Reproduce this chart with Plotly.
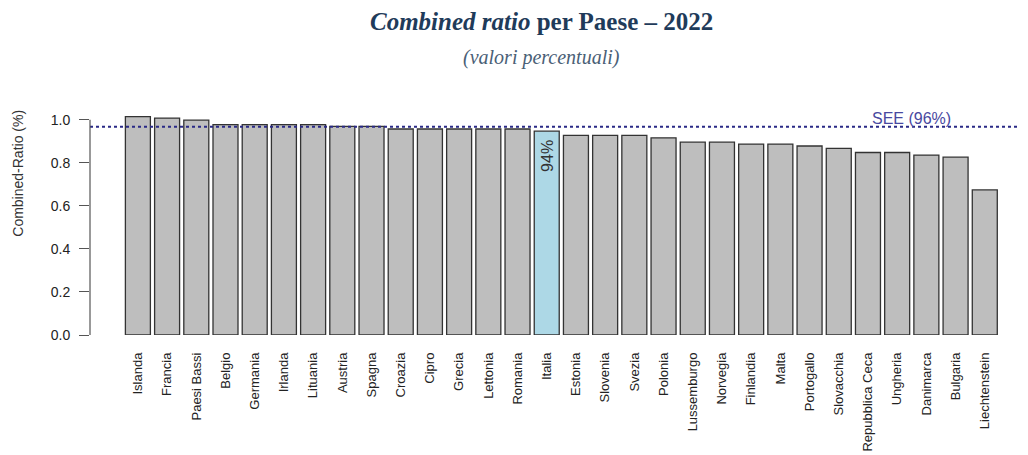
import plotly.graph_objects as go

# dati (combined ratio 2022)
paesi = ["Islanda", "Francia", "Paesi Bassi", "Belgio", "Germania", "Irlanda", "Lituania",
         "Austria", "Spagna", "Croazia", "Cipro", "Grecia", "Lettonia", "Romania", "Italia",
         "Estonia", "Slovenia", "Svezia", "Polonia", "Lussemburgo", "Norvegia", "Finlandia",
         "Malta", "Portogallo", "Slovacchia", "Repubblica Ceca", "Ungheria", "Danimarca",
         "Bulgaria", "Liechtenstein"]
ratio = [1.015, 1.008, 0.998, 0.977, 0.977, 0.977, 0.977,
         0.969, 0.969, 0.957, 0.957, 0.957, 0.957, 0.957, 0.947,
         0.927, 0.927, 0.927, 0.916, 0.896, 0.896, 0.887,
         0.887, 0.878, 0.867, 0.848, 0.848, 0.836,
         0.826, 0.674]
see = 0.968
y_ticks = [0.0, 0.2, 0.4, 0.6, 0.8, 1.0]

colori = ["#ADD8E6" if p == "Italia" else "#BEBEBE" for p in paesi]

fig = go.Figure(go.Bar(
    x=paesi, y=ratio,
    marker=dict(color=colori, line=dict(color="#333333", width=1.3)),
))

# etichetta Italia
i_ita = paesi.index("Italia")
fig.add_annotation(x=paesi[i_ita], y=ratio[i_ita], xref="x", yref="y", text="94%",
                   showarrow=False, textangle=-90, yanchor="top", yshift=-7,
                   font=dict(family="Arial, Liberation Sans", size=16, color="#333333"))

# linea media SEE
fig.add_hline(y=see, line=dict(color="#2A2A86", width=2, dash="dot"))
fig.add_annotation(x=26.5, y=see, xref="x", yref="y", text="SEE (96%)", showarrow=False,
                   yanchor="bottom", yshift=-2,
                   font=dict(family="Arial, Liberation Sans", size=16, color="#4848A0"))

# asse y stile R (solo da 0 a 1)
fig.add_shape(type="line", xref="paper", yref="y", x0=0, x1=0, y0=0, y1=1,
              line=dict(color="#555555", width=1.2))

# titolo
fig.add_annotation(x=0.481, y=1.385, xref="paper", yref="paper", showarrow=False,
                   yanchor="middle",
                   text="<b><i>Combined ratio</i> per Paese – 2022</b>",
                   font=dict(family="Liberation Serif, DejaVu Serif", size=25, color="#1F3B5A"))
fig.add_annotation(x=0.481, y=1.23, xref="paper", yref="paper", showarrow=False,
                   yanchor="middle",
                   text="<i>(valori percentuali)</i>",
                   font=dict(family="Liberation Serif, DejaVu Serif", size=20, color="#4A6076"))
fig.add_annotation(x=-0.077, y=0.717, xref="paper", yref="paper", showarrow=False,
                   yanchor="middle", xanchor="center",
                   text="Combined-Ratio (%)", textangle=-90,
                   font=dict(family="Arial, Liberation Sans", size=14, color="#333333"))

# la pagina ha 8px di margine: figura piu' piccola
fig.update_layout(
    width=1020, height=447,
    margin=dict(l=82, r=0, t=101, b=120),
    plot_bgcolor="white", paper_bgcolor="white",
    showlegend=False, bargap=0.144,
    font=dict(family="Arial, Liberation Sans", size=12, color="#222222"),
)
fig.update_xaxes(range=[-1.64, 30.48], showgrid=False, showline=False, ticks="",
                 tickangle=-90, ticklabelstandoff=14,
                 tickfont=dict(size=13, color="#222222"))
fig.update_yaxes(range=[0, 1.05], showgrid=False, zeroline=False, showline=False,
                 tickvals=y_ticks, ticktext=["%.1f" % v for v in y_ticks],
                 ticks="outside", ticklen=10, tickcolor="#555555", tickwidth=1.2,
                 ticklabelstandoff=6,
                 tickfont=dict(size=14, color="#222222"))

fig.write_html("out.html")
